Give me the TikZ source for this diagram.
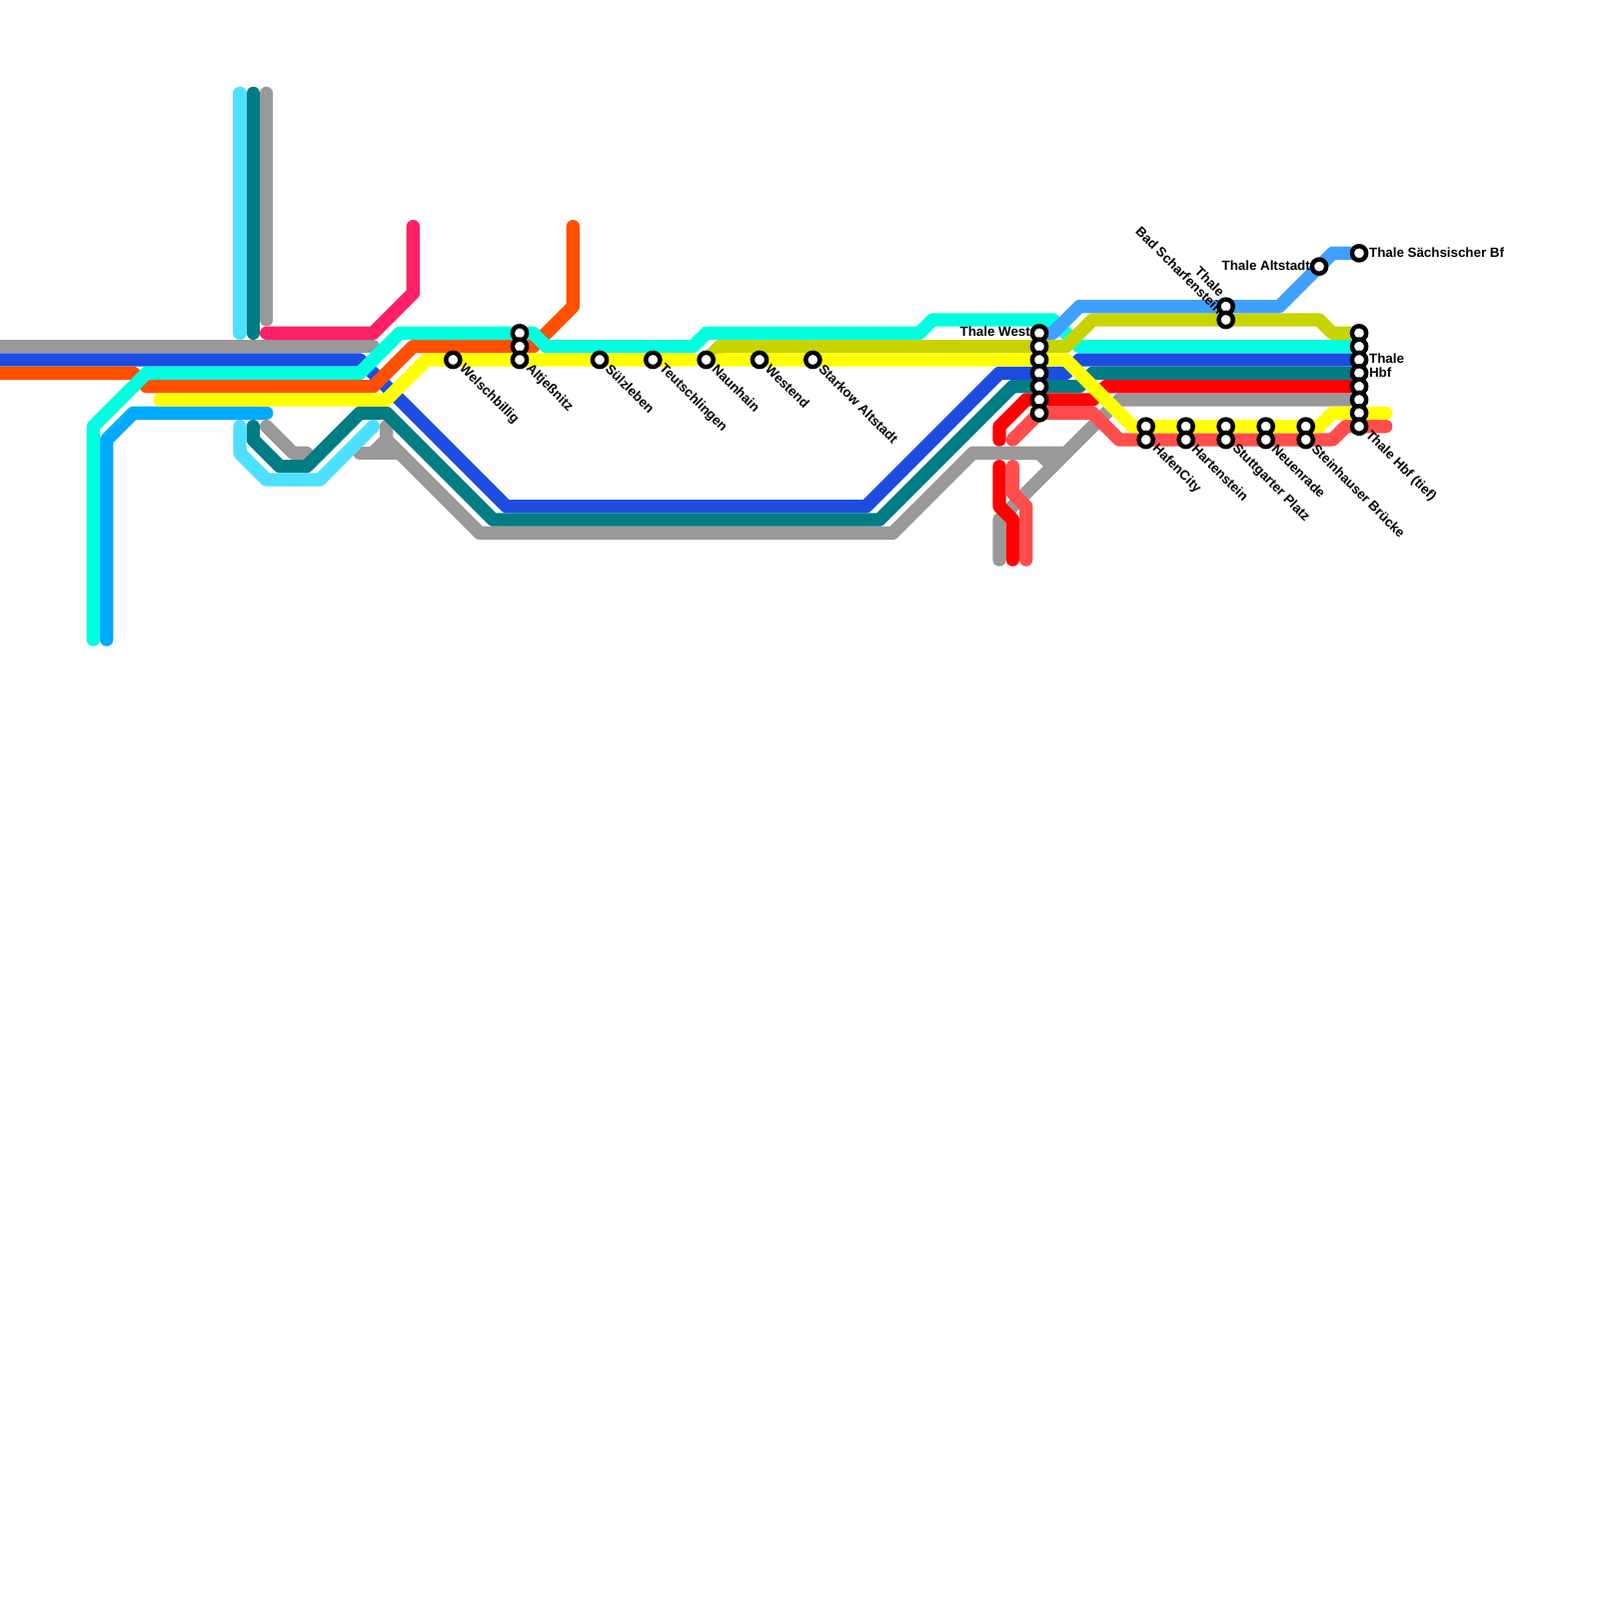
\documentclass[tikz,border=0pt]{standalone}
\usepackage{fontspec}
\setmainfont{Liberation Sans}
\usepackage{tikz}
\usetikzlibrary{positioning,calc}
\definecolor{linegray}{HTML}{999999}
\definecolor{lineblue}{HTML}{1C4DE0}
\definecolor{lineteal}{HTML}{007C85}
\definecolor{lineorange}{HTML}{FF5000}
\definecolor{linepink}{HTML}{FF1F66}
\definecolor{linecyan}{HTML}{00FFE0}
\definecolor{linesky}{HTML}{00AAFF}
\definecolor{lineice}{HTML}{4DE0FF}
\definecolor{lineolive}{HTML}{C8D400}
\definecolor{linered}{HTML}{FF0000}
\definecolor{linecoral}{HTML}{FF4D4D}
\definecolor{lineazure}{HTML}{40A0FF}
\definecolor{lineyellow}{HTML}{FFFF00}
\tikzset{
  route/.style={line width=3mm, line cap=round, line join=round},
  halt/.style={circle, draw=black, fill=white, line width=1mm, minimum size=3.2mm, inner sep=0pt},
  stname/.style={font=\fontsize{8.54}{8.54}\selectfont\bfseries, inner sep=0pt, text=black},
  namedown/.style={stname, rotate=-45, anchor=west, xshift=2.4mm, yshift=0.25mm},
  nameright/.style={stname, anchor=west, xshift=2.2mm, yshift=0.2mm},
  nameleft/.style={stname, anchor=east, xshift=-2mm, yshift=0.3mm},
}

\begin{document}
\begin{tikzpicture}[x=3mm,y=-3mm]
\useasboundingbox (0,0) rectangle (120,120);
% routes, back to front; x and y count map squares
\draw[route, linegray] (-1,26) -- (28,26);
\draw[route, linegray] (20,7) -- (20,24);
\draw[route, linegray] (20,32) -- (22,34) -- (23,34);
\draw[route, linegray] (29,32) -- (29,33) -- (36,40) -- (67,40) -- (73,34) -- (80,34);
\draw[route, linegray] (27,34) -- (30,34);
\draw[route, linegray] (28,34) -- (29,33);
\draw[route, linegray] (78,34) -- (79,35);
\draw[route, linegray] (75,42) -- (75,39) -- (84,30) -- (102,30);
\draw[route, lineblue] (-1,27) -- (27,27) -- (38,38) -- (65,38) -- (75,28) -- (80,28) -- (81,27) -- (102,27);
\draw[route, lineteal] (19,7) -- (19,25);
\draw[route, lineteal] (19,32) -- (19,33) -- (21,35) -- (23,35) -- (27,31) -- (29,31) -- (37,39) -- (66,39) -- (76,29) -- (81,29) -- (82,28) -- (102,28);
\draw[route, lineorange] (-1,28) -- (10,28) -- (11,29) -- (28,29) -- (31,26) -- (40,26) -- (43,23) -- (43,17);
\draw[route, linepink] (20,25) -- (28,25) -- (31,22) -- (31,17);
\draw[route, lineice] (18,7) -- (18,25);
\draw[route, lineice] (18,32) -- (18,34) -- (20,36) -- (24,36) -- (28,32);
\draw[route, linesky] (8,48) -- (8,33) -- (10,31) -- (20,31);
\draw[route, linecyan] (7,48) -- (7,32) -- (11,28) -- (27,28) -- (30,25) -- (40,25) -- (41,26) -- (52,26) -- (53,25) -- (69,25) -- (70,24) -- (79,24) -- (81,26) -- (102,26);
\draw[route, lineolive] (53,27) -- (54,26) -- (80,26) -- (82,24) -- (99,24) -- (100,25) -- (102,25);
\draw[route, linered] (75,33) -- (75,32) -- (77,30) -- (82,30) -- (83,29) -- (102,29);
\draw[route, linered] (75,35) -- (75,38) -- (76,39) -- (76,42);
\draw[route, linecoral] (76,33) -- (78,31) -- (82,31) -- (84,33) -- (100,33) -- (101,32) -- (104,32);
\draw[route, linecoral] (76,35) -- (76,37) -- (77,38) -- (77,42);
\draw[route, lineazure] (78,25) -- (79,25) -- (81,23) -- (96,23) -- (100,19) -- (102,19);
\draw[route, lineyellow] (12,30) -- (29,30) -- (32,27) -- (52,27);
\draw[route, lineyellow] (54,27) -- (80,27) -- (85,32) -- (99,32) -- (100,31) -- (104,31);
% stations
\node[halt] (welsch) at (34,27) {};
\node[halt] (alt1) at (39,25) {};
\node[halt] (alt2) at (39,26) {};
\node[halt] (alt3) at (39,27) {};
\node[halt] (suelz) at (45,27) {};
\node[halt] (teut) at (49,27) {};
\node[halt] (naun) at (53,27) {};
\node[halt] (westend) at (57,27) {};
\node[halt] (stark) at (61,27) {};
\node[halt] (tw1) at (78,25) {};
\node[halt] (tw2) at (78,26) {};
\node[halt] (tw3) at (78,27) {};
\node[halt] (tw4) at (78,28) {};
\node[halt] (tw5) at (78,29) {};
\node[halt] (tw6) at (78,30) {};
\node[halt] (tw7) at (78,31) {};
\node[halt] (hafen1) at (86,32) {};
\node[halt] (hafen2) at (86,33) {};
\node[halt] (hart1) at (89,32) {};
\node[halt] (hart2) at (89,33) {};
\node[halt] (stutt1) at (92,32) {};
\node[halt] (stutt2) at (92,33) {};
\node[halt] (neu1) at (95,32) {};
\node[halt] (neu2) at (95,33) {};
\node[halt] (stein1) at (98,32) {};
\node[halt] (stein2) at (98,33) {};
\node[halt] (bad1) at (92,23) {};
\node[halt] (bad2) at (92,24) {};
\node[halt] (talt) at (99,20) {};
\node[halt] (tsb) at (102,19) {};
\node[halt] (hbf1) at (102,25) {};
\node[halt] (hbf2) at (102,26) {};
\node[halt] (hbf3) at (102,27) {};
\node[halt] (hbf4) at (102,28) {};
\node[halt] (hbf5) at (102,29) {};
\node[halt] (hbf6) at (102,30) {};
\node[halt] (hbf7) at (102,31) {};
\node[halt] (hbf8) at (102,32) {};
% names
\node[namedown] (nwelsch) at (welsch) {Welschbillig};
\node[namedown] (nalt) at (alt3) {Altjeßnitz};
\node[namedown] (nsuelz) at (suelz) {Sülzleben};
\node[namedown] (nteut) at (teut) {Teutschlingen};
\node[namedown] (nnaun) at (naun) {Naunhain};
\node[namedown] (nwest) at (westend) {Westend};
\node[namedown] (nstark) at (stark) {Starkow Altstadt};
\node[namedown] (nhafen) at (hafen2) {HafenCity};
\node[namedown] (nhart) at (hart2) {Hartenstein};
\node[namedown] (nstutt) at (stutt2) {Stuttgarter Platz};
\node[namedown] (nneu) at (neu2) {Neuenrade};
\node[namedown] (nstein) at (stein2) {Steinhauser Brücke};
\node[namedown] (nhbf) at (hbf8) {Thale Hbf (tief)};
\node[nameleft] (ntw) at (tw1) {Thale West};
\node[nameleft] (ntalt) at (talt) {Thale Altstadt};
\node[nameright] (ntsb) at (tsb) {Thale Sächsischer Bf};
\node[nameright, align=left, yshift=-1.5mm] (nthbf) at (hbf3) {Thale\\Hbf};
\node[stname, rotate=-45, anchor=east, align=right, xshift=0.1mm, yshift=-0.1mm] (nbad) at (bad1) {Thale\kern2.6mm\\Bad Scharfenstein};
\end{tikzpicture}
\end{document}
